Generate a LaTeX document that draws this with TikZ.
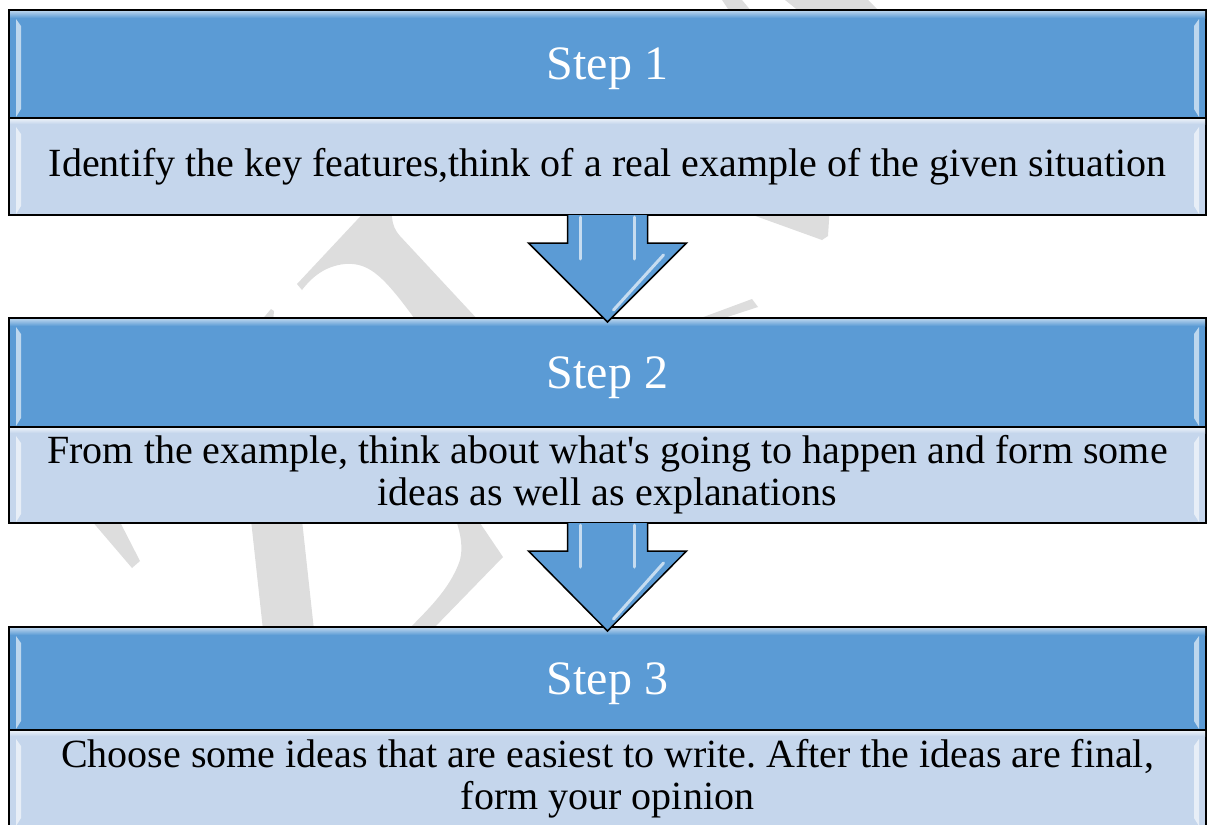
\documentclass[tikz,border=0pt]{standalone}
\usepackage{fontspec}
\setmainfont{Liberation Serif}[Ligatures=TeXOff]
\usetikzlibrary{positioning,calc}
\definecolor{headblue}{RGB}{91,155,213}
\definecolor{bodyblue}{RGB}{197,214,236}
\definecolor{markgrey}{RGB}{221,221,221}
\frenchspacing

\begin{document}
\begin{tikzpicture}[x=1pt,y=-1pt,node distance=0pt,
		stephead/.style={draw=black,line width=2pt,fill=headblue,text=white,minimum width=1197pt,inner sep=0pt,outer sep=0pt,text depth=0pt,font=\fontsize{48}{54}\selectfont},
		stepbody/.style={draw=black,line width=2pt,fill=bodyblue,minimum width=1197pt,inner sep=0pt,outer sep=0pt,align=center,font=\fontsize{40}{42}\selectfont},
		blockarrow/.style={draw=black,line width=1.5pt,fill=headblue,line join=miter},
		gloss/.style={fill=white,fill opacity=0.6},
		shine/.style={draw=white!65!headblue,line width=3pt,line cap=round},
		watermark/.style={fill=markgrey}]
	        \useasboundingbox (0,0) rectangle (1211,825);
			% faint watermark behind the boxes
			\fill[watermark] (297,284) -- (371,205) -- (390,205) -- (392,217) .. controls (393,226) and (395,230) .. (400,236) -- (480,322) -- (417,322) .. controls (385,278) and (370,262) .. (345,264) .. controls (325,266) and (312,277) .. (302,290) -- cycle;
			\fill[watermark] (260,322) -- (271,309) -- (274,311) -- (273,322) -- cycle;
			\fill[watermark] (725,205) -- (830,205) -- (828,236) -- (822,240) -- cycle;
			\fill[watermark] (752,299) -- (758,307) -- (712,322) -- (690,322) -- cycle;
			\fill[watermark] (722,0) -- (742,0) -- (752,12) -- (730,12) -- cycle;
			\fill[watermark] (785,0) -- (868,0) -- (880,12) -- (800,12) -- cycle;
			\fill[watermark] (91,520) -- (119,520) -- (140,561) -- (132,568) -- cycle;
			\fill[watermark] (251,520) -- (302,520) -- (314,630) -- (263,630) -- cycle;
			\fill[watermark] (456,520) .. controls (461,535) and (463,548) .. (460,560) .. controls (450,590) and (425,612) .. (408,630) -- (432,630) -- (503,557) -- (478,520) -- cycle;

	        \node[stephead,minimum height=108pt] at (607.5,64) (s1head) {Step 1};
	        \node[stepbody,minimum height=97pt,below=of s1head] (s1body) {Identify the key features,think of a real example of the given situation};
	        \node[stephead,minimum height=109pt] at (607.5,372.5) (s2head) {Step 2};
	        \node[stepbody,minimum height=96pt,below=of s2head] (s2body) {From the example, think about what's going to happen and form some\\ideas as well as explanations};
	        \node[stephead,minimum height=103pt] at (607.5,678.5) (s3head) {Step 3};
	        \node[stepbody,minimum height=97pt,below=of s3head] (s3body) {Choose some ideas that are easiest to write. After the ideas are final,\\form your opinion};

			\foreach \n in {s1head,s2head,s3head}
				\fill[top color=headblue!45!white,bottom color=headblue] ($(\n.north west)+(1,1)$) rectangle ($(\n.north east)+(-1,8)$);
			\foreach \n in {s1body,s2body,s3body}
				\fill[top color=bodyblue!40!white,bottom color=bodyblue] ($(\n.north west)+(1,1)$) rectangle ($(\n.north east)+(-1,6)$);
			\foreach \n in {s1head,s2head,s3head,s1body,s2body,s3body} {
				\fill[gloss] ($(\n.north west)+(7,9)$) -- ++(5,7) -- ($(\n.south west)+(12,-9)$) -- ++(-5,8) -- cycle;
				\fill[gloss] ($(\n.north east)+(-7,9)$) -- ++(-5,7) -- ($(\n.south east)+(-12,-9)$) -- ++(5,8) -- cycle;
			}

			\foreach \a/\b in {s1body/s2head,s2body/s3head} {
				\draw[blockarrow] ($(\a.south)+(-40,0)$) -- ++(0,28) -- ++(-39,0) -- ($(\b.north)+(0,4)$) -- ($(\a.south)+(79,28)$) -- ++(-39,0) -- ($(\a.south)+(40,0)$);
				\draw[shine] ($(\a.south)+(-27,2)$) -- ++(0,42);
				\draw[shine] ($(\a.south)+(27,2)$) -- ++(0,42);
				\draw[shine] ($(\a.south)+(56,40)$) -- ($(\b.north)+(6,-8)$);
			}
		\end{tikzpicture}
\end{document}
